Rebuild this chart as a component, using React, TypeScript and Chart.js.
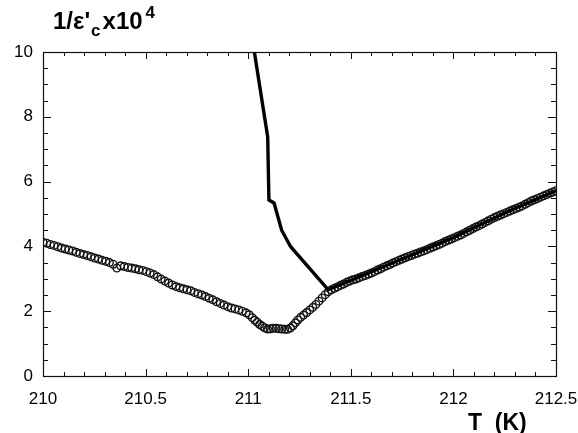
import React, { useEffect, useRef } from "react";
import { Chart, registerables } from "chart.js";

Chart.register(...registerables);

// Open-circle measurement: temperature (K) and 1/eps'_c x 10^4
const circleTemps = [
  210.000, 210.018, 210.036, 210.054, 210.072, 210.090, 210.108, 210.126, 210.144, 210.162,
  210.180, 210.198, 210.216, 210.234, 210.252, 210.270, 210.288, 210.306, 210.324, 210.342,
  210.360, 210.378, 210.396, 210.414, 210.432, 210.450, 210.468, 210.486, 210.504, 210.522,
  210.540, 210.558, 210.576, 210.594, 210.612, 210.630, 210.648, 210.666, 210.684, 210.702,
  210.720, 210.738, 210.756, 210.774, 210.792, 210.810, 210.828, 210.846, 210.864, 210.882,
  210.900, 210.918, 210.936, 210.954, 210.972, 210.990, 211.005, 211.020, 211.032, 211.044,
  211.056, 211.068, 211.080, 211.094, 211.108, 211.122, 211.136, 211.150, 211.164, 211.178,
  211.192, 211.206, 211.218, 211.230, 211.242, 211.256, 211.270, 211.285, 211.300, 211.315,
  211.330, 211.345, 211.360, 211.375, 211.390,
  211.405, 211.420, 211.435, 211.450, 211.465, 211.480, 211.495, 211.510, 211.525, 211.540,
  211.555, 211.570, 211.585, 211.600, 211.615, 211.630, 211.645, 211.660, 211.675, 211.690,
  211.705, 211.720, 211.735, 211.750, 211.765, 211.780, 211.795, 211.810, 211.825, 211.840,
  211.855, 211.870, 211.885, 211.900, 211.915, 211.930, 211.945, 211.960, 211.975, 211.990,
  212.005, 212.020, 212.035, 212.050, 212.065, 212.080, 212.095, 212.110, 212.125, 212.140,
  212.155, 212.170, 212.185, 212.200, 212.215, 212.230, 212.245, 212.260, 212.275, 212.290,
  212.305, 212.320, 212.335, 212.350, 212.365, 212.380, 212.395, 212.410, 212.425, 212.440,
  212.455, 212.470, 212.485, 212.500,
];
const circleValues = [
  4.13, 4.10, 4.06, 4.03, 3.99, 3.95, 3.92, 3.89, 3.86, 3.82,
  3.78, 3.75, 3.72, 3.68, 3.64, 3.61, 3.57, 3.54, 3.50, 3.45,
  3.33, 3.40, 3.38, 3.35, 3.33, 3.31, 3.28, 3.26, 3.22, 3.18,
  3.13, 3.06, 2.99, 2.93, 2.87, 2.81, 2.76, 2.72, 2.69, 2.66,
  2.63, 2.58, 2.54, 2.50, 2.45, 2.40, 2.35, 2.29, 2.24, 2.19,
  2.14, 2.10, 2.07, 2.04, 2.00, 1.95, 1.89, 1.80, 1.72, 1.66,
  1.59, 1.54, 1.49, 1.45, 1.46, 1.47, 1.47, 1.46, 1.45, 1.44,
  1.44, 1.48, 1.55, 1.64, 1.73, 1.81, 1.88, 1.96, 2.04, 2.12,
  2.21, 2.31, 2.41, 2.51, 2.60,
  2.66, 2.71, 2.75, 2.80, 2.84, 2.89, 2.93, 2.97, 2.99, 3.03,
  3.07, 3.10, 3.14, 3.18, 3.22, 3.27, 3.31, 3.36, 3.40, 3.44,
  3.49, 3.53, 3.57, 3.61, 3.65, 3.69, 3.72, 3.76, 3.79, 3.83,
  3.86, 3.90, 3.94, 3.98, 4.02, 4.06, 4.10, 4.15, 4.19, 4.23,
  4.27, 4.31, 4.35, 4.40, 4.45, 4.50, 4.55, 4.60, 4.64, 4.69,
  4.74, 4.79, 4.84, 4.89, 4.93, 4.97, 5.01, 5.05, 5.09, 5.13,
  5.17, 5.21, 5.25, 5.30, 5.35, 5.40, 5.44, 5.48, 5.52, 5.56,
  5.60, 5.64, 5.68, 5.72,
];

// Solid-line measurement
const lineTemps = [211.030, 211.095, 211.101, 211.126, 211.163, 211.207, 211.390, 211.700, 212.000, 212.250, 212.500];
const lineValues = [10.0, 7.38, 5.43, 5.34, 4.50, 3.99, 2.66, 3.48, 4.27, 5.03, 5.72];

const xMin = 210;
const xMax = 212.5;
const xMajorStep = 0.5;
const xMinorStep = 0.1;
const yMin = 0;
const yMax = 10;
const yMajorStep = 2;
const yMinorStep = 0.5;

const tickFont = "Liberation Sans, Arial, Helvetica, sans-serif";

const framePlugin = {
  id: "frameTicks",
  afterDraw(chart: any) {
    const { ctx, chartArea } = chart;
    const xs = chart.scales.x;
    const ys = chart.scales.y;
    const { left, right, top, bottom } = chartArea;
    ctx.save();
    ctx.strokeStyle = "#111";
    ctx.lineWidth = 1.2;
    ctx.strokeRect(Math.round(left) + 0.5, Math.round(top) + 0.5, Math.round(right - left), Math.round(bottom - top));

    const nx = Math.round((xMax - xMin) / xMinorStep);
    ctx.lineWidth = 1;
    ctx.beginPath();
    for (let i = 0; i <= nx; i++) {
      const v = xMin + i * xMinorStep;
      const major = Math.abs(v / xMajorStep - Math.round(v / xMajorStep)) < 1e-6;
      const len = major ? 7 : 4;
      const px = Math.round(xs.getPixelForValue(v)) + 0.5;
      ctx.moveTo(px, bottom);
      ctx.lineTo(px, bottom - len);
      ctx.moveTo(px, top);
      ctx.lineTo(px, top + len);
    }
    const ny = Math.round((yMax - yMin) / yMinorStep);
    for (let i = 0; i <= ny; i++) {
      const v = yMin + i * yMinorStep;
      const major = Math.abs(v / yMajorStep - Math.round(v / yMajorStep)) < 1e-6;
      const len = major ? 8 : 5;
      const py = Math.round(ys.getPixelForValue(v)) + 0.5;
      ctx.moveTo(left, py);
      ctx.lineTo(left + len, py);
      ctx.moveTo(right, py);
      ctx.lineTo(right - len, py);
    }
    ctx.stroke();

    // axis titles
    ctx.fillStyle = "#000";
    ctx.textBaseline = "alphabetic";
    ctx.textAlign = "left";
    const big = "bold 24px " + tickFont;
    const small = "bold 17px " + tickFont;
    let x = 53;
    const base = 29;
    ctx.font = big;
    ctx.fillText("1/\u03b5'", x, base);
    x += ctx.measureText("1/\u03b5'").width + 1;
    ctx.font = small;
    ctx.fillText("c", x, base + 7);
    x += ctx.measureText("c").width + 2;
    ctx.font = big;
    ctx.fillText("x10", x, base);
    x += ctx.measureText("x10").width + 3;
    ctx.font = small;
    ctx.fillText("4", x, base - 11);

    ctx.font = "bold 23px " + tickFont;
    ctx.fillText("T  (K)", 468, 430);
    ctx.restore();
  },
};

export default function App() {
  const canvasRef = useRef<HTMLCanvasElement | null>(null);

  useEffect(() => {
    const canvas = canvasRef.current;
    if (!canvas) return;
    const chart = new Chart(canvas, {
      type: "scatter",
      data: {
        datasets: [
          {
            type: "line",
            label: "line",
            data: lineTemps.map((t, i) => ({ x: t, y: lineValues[i] })),
            borderColor: "#000",
            borderWidth: 3.4,
            pointRadius: 0,
            fill: false,
            tension: 0,
            showLine: true,
          },
          {
            label: "circles",
            data: circleTemps.map((t, i) => ({ x: t, y: circleValues[i] })),
            pointStyle: "circle",
            pointRadius: 3.8,
            pointBorderWidth: 1.4,
            pointBorderColor: "#111",
            pointBackgroundColor: "rgba(255,255,255,0)",
            showLine: false,
          },
        ],
      },
      options: {
        responsive: false,
        animation: false,
        layout: { padding: { top: 52, right: 22, left: 0, bottom: 0 } },
        plugins: {
          legend: { display: false },
          tooltip: { enabled: false },
          title: { display: false },
        },
        scales: {
          x: {
            type: "linear",
            min: xMin,
            max: xMax,
            grid: { display: false, drawTicks: false },
            border: { display: false },
            afterFit: (s: any) => {
              s.height = 57;
              s.paddingLeft = 0;
              s.paddingRight = 0;
            },
            ticks: {
              stepSize: xMajorStep,
              padding: 13,
              color: "#000",
              font: { family: tickFont, size: 17 },
              maxRotation: 0,
              callback: (v: any) => String(Number(v)),
            },
          },
          y: {
            type: "linear",
            min: yMin,
            max: yMax,
            grid: { display: false, drawTicks: false },
            border: { display: false },
            afterFit: (s: any) => {
              s.width = 43;
              s.paddingTop = 0;
              s.paddingBottom = 0;
            },
            ticks: {
              stepSize: yMajorStep,
              padding: 10,
              color: "#000",
              font: { family: tickFont, size: 17 },
            },
          },
        },
      },
      plugins: [framePlugin],
    });
    return () => chart.destroy();
  }, []);

  return (
    <div style={{ position: "fixed", left: 0, top: 0, width: 578, height: 433, background: "#fff" }}>
      <canvas ref={canvasRef} width={578} height={433} style={{ display: "block" }} />
    </div>
  );
}
